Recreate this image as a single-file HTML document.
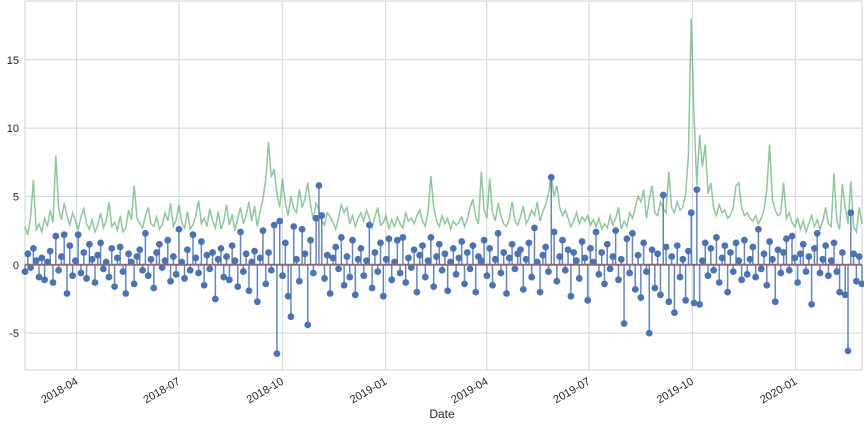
<!DOCTYPE html>
<html><head><meta charset="utf-8"><style>
body{margin:0;background:#fff;font-family:"Liberation Sans",sans-serif}
svg text{font-family:"Liberation Sans",sans-serif;fill:#262626}
</style></head><body>
<svg id="chart" width="864" height="425"></svg>
<script>
const startDate = "2018-02-14";
const endDate = "2020-02-29";
const yTicks = [-5, 0, 5, 10, 15];
const xTickLabels = ["2018-04","2018-07","2018-10","2019-01","2019-04","2019-07","2019-10","2020-01"];
const stemValues = [
-0.5,0.8,-0.2,1.2,0.3,-0.9,0.5,-1.1,0.2,1.0,-1.3,2.1,-0.4,0.6,2.2,-2.1,1.4,-0.8,0.3,2.2,
-0.6,0.9,-1.0,1.5,0.4,-1.3,0.7,1.6,-0.3,0.2,-0.9,1.2,-1.6,0.5,1.3,-0.5,-2.1,0.8,0.2,-1.4,
0.6,1.1,-0.4,2.3,-0.8,0.4,-1.7,0.9,1.5,-0.2,0.3,1.8,-1.2,0.6,-0.7,2.6,0.2,-1.0,1.1,-0.4,
2.2,0.5,-0.6,1.7,-1.5,0.7,-0.3,0.9,-2.5,0.4,1.2,-0.9,0.6,-1.1,1.4,0.3,-1.6,2.4,-0.5,0.8,
-1.9,0.2,1.0,-2.7,0.5,2.5,-1.4,0.9,-0.4,2.9,-6.5,3.2,-0.8,1.6,-2.3,-3.8,2.8,0.4,-1.2,2.6,
0.8,-4.4,1.8,-0.6,3.4,5.8,3.6,-1.0,0.7,-2.1,0.5,1.3,-0.3,2.0,-1.5,0.6,-0.9,1.8,-2.2,0.4,
1.2,-0.8,0.3,2.9,-1.7,0.9,-0.5,1.6,-2.3,0.4,1.9,-1.1,0.2,1.8,-0.6,2.0,-1.3,0.5,-0.2,1.1,
-2.0,0.7,1.4,-0.9,0.3,2.0,-1.6,0.6,1.5,-0.4,0.8,-1.9,0.2,1.2,-0.7,0.5,1.7,-1.4,0.9,-0.3,
1.4,-2.0,0.6,0.3,1.8,-0.8,1.2,-1.5,0.4,2.3,-0.6,0.9,-2.1,0.5,1.5,-0.3,0.8,1.1,-1.8,0.4,
1.6,-0.9,2.7,0.2,-2.0,0.7,1.3,-0.5,6.4,2.4,-1.2,0.6,1.8,-0.4,1.1,-2.3,0.9,0.3,-1.0,1.7,
0.5,-2.6,1.2,0.2,2.4,-0.7,0.9,-1.4,1.5,-0.3,0.6,2.5,-1.1,0.4,-4.3,1.9,-0.6,2.3,-1.8,0.7,
-2.4,1.6,-0.5,-5.0,1.1,-1.7,0.8,-2.2,5.1,1.3,-2.7,0.6,-3.5,1.4,-0.9,0.4,-2.6,1.0,3.8,-2.8,
5.5,-2.9,0.3,1.6,-0.8,1.2,-0.4,2.0,-1.3,0.5,1.4,-2.0,0.9,-0.5,1.6,0.3,-1.1,1.8,-0.7,0.4,
1.3,-0.9,2.6,-0.3,0.8,-1.5,1.7,0.4,-2.7,1.1,-0.6,0.9,1.9,-0.4,2.1,0.5,-1.3,0.8,1.5,-0.5,
0.6,-2.9,1.2,2.3,-0.6,0.4,1.4,-0.8,0.3,1.6,-0.5,-2.0,0.9,-2.2,-6.3,3.8,0.8,-1.2,0.6,-1.4];
const lineValues = [
2.8,2.2,3.5,6.2,2.5,3.0,2.4,3.4,2.8,4.0,3.1,8.0,4.2,3.3,4.5,3.6,2.9,3.8,3.2,2.6,
3.5,4.1,3.0,2.6,3.3,2.4,2.9,3.8,2.7,3.2,4.6,2.8,3.1,2.5,3.6,2.4,2.7,4.0,3.3,5.8,
3.4,3.0,2.7,3.6,4.2,3.0,2.8,3.5,2.6,2.9,3.8,3.2,4.5,2.8,3.3,4.4,3.1,2.7,3.9,2.6,
2.9,3.6,4.7,3.0,3.4,2.8,4.1,3.2,2.7,3.9,2.6,3.2,4.4,2.9,3.7,2.5,3.4,4.2,3.0,3.6,
4.6,3.2,4.3,2.8,3.9,4.8,6.2,9.0,6.4,7.0,5.2,4.2,6.3,4.5,3.6,5.0,4.1,3.8,5.5,4.2,
4.8,6.0,4.4,3.3,4.5,4.0,3.2,2.9,3.8,3.5,3.1,2.6,3.4,4.4,3.8,4.2,3.0,3.6,2.8,3.4,
3.8,3.2,4.0,3.4,2.7,3.5,4.2,2.9,3.1,3.6,2.6,3.3,2.8,3.5,3.0,2.7,3.8,3.2,3.4,3.0,
3.6,4.0,3.2,2.8,3.9,6.5,4.2,3.2,2.8,3.6,3.0,3.4,2.6,3.2,2.9,3.1,3.5,2.8,3.3,4.2,
4.8,3.5,3.0,6.8,4.0,3.4,6.3,3.8,3.2,4.5,3.6,3.0,2.8,3.4,4.6,3.2,2.9,3.5,4.3,3.0,
3.4,4.0,3.6,4.6,3.2,3.9,4.4,5.2,6.5,5.0,5.8,4.2,3.6,4.0,3.4,2.8,3.2,3.8,3.0,3.5,
3.2,3.6,2.9,3.3,2.8,3.4,2.6,3.0,2.7,3.6,2.9,3.4,4.2,2.6,3.2,2.8,3.8,3.4,4.2,5.0,
4.6,5.5,3.4,4.8,5.8,3.8,3.6,4.6,4.1,3.8,6.8,4.2,3.8,4.6,4.0,4.2,5.2,8.0,18.0,11.0,
5.8,9.5,7.2,8.8,5.2,6.0,4.2,3.6,4.4,3.8,4.0,3.4,3.6,4.2,5.8,6.0,4.2,3.6,3.8,3.4,
3.2,3.6,3.0,3.4,4.0,5.5,8.8,4.8,4.0,3.6,3.8,6.0,3.4,3.8,3.1,2.8,3.4,2.6,3.2,2.4,
3.0,3.6,2.8,3.3,2.6,3.2,4.2,3.0,2.8,6.7,3.2,2.6,5.9,4.2,3.0,6.1,2.8,2.4,4.2,3.0];

const svg = document.getElementById('chart');
const NS = 'http://www.w3.org/2000/svg';
const L = 25, R = 862, T = 1, B = 370;
const yMin = -7.7, yMax = 19.3;
const t0 = Date.parse(startDate), t1 = Date.parse(endDate);
const xScale = t => L + (t - t0) / (t1 - t0) * (R - L);
const yScale = v => B - (v - yMin) / (yMax - yMin) * (B - T);
const pointTime = i => t0 + (t1 - t0) * i / (stemValues.length - 1);
function mk(tag, attrs, parent) {
  const e = document.createElementNS(NS, tag);
  for (const k in attrs) e.setAttribute(k, attrs[k]);
  (parent || svg).appendChild(e);
  return e;
}
// grid
const grid = mk('g', {});


yTicks.forEach(v => {
  const y = yScale(v);
  const gl = mk('line', {x1: L, x2: R, y1: y, y2: y, stroke: '#c9d6d2', 'stroke-width': 1}, grid);
  
  
  const tx = mk('text', {x: L - 6, y: y + 4, 'text-anchor': 'end', 'font-size': 11});
  tx.textContent = v;
  
  
});
xTickLabels.forEach(s => {
  const x = xScale(Date.parse(s + '-01'));
  const gl = mk('line', {x1: x, x2: x, y1: T, y2: B, stroke: '#c9d6d2', 'stroke-width': 1}, grid);
  
  
  const tx = mk('text', {x: x, y: B + 14, 'text-anchor': 'end', 'font-size': 11, transform: `rotate(-30 ${x} ${B + 10})`});
  tx.textContent = s;
  
  
});
// frame
const frame = mk('rect', {x: L, y: T, width: R - L, height: B - T, fill: 'none', stroke: '#c9d6d2', 'stroke-width': 1});


// green line
const lp = lineValues.map((v, i) => xScale(pointTime(i)).toFixed(1) + ',' + yScale(v).toFixed(1)).join(' ');
const line = mk('polyline', {points: lp, fill: 'none', stroke: '#55a868', 'stroke-opacity': 0.65, 'stroke-width': 1.5});


// stems
const stems = mk('g', {});


const y0 = yScale(0);
stemValues.forEach((v, i) => {
  const x = xScale(pointTime(i)), y = yScale(v);
  const s = mk('line', {x1: x, x2: x, y1: y0, y2: y, stroke: '#4c72b0', 'stroke-width': 1.5, 'stroke-opacity': 0.85}, stems);
  
  
});
const base = mk('line', {x1: L, x2: R, y1: y0, y2: y0, stroke: '#8c6b78', 'stroke-width': 2});


stemValues.forEach((v, i) => {
  const c = mk('circle', {cx: xScale(pointTime(i)), cy: yScale(v), r: 3.4, fill: '#4c72b0'}, stems);
  
  
});
const xt = mk('text', {x: 442, y: 418, 'text-anchor': 'middle', 'font-size': 12});
xt.textContent = 'Date';


</script>
</body></html>
